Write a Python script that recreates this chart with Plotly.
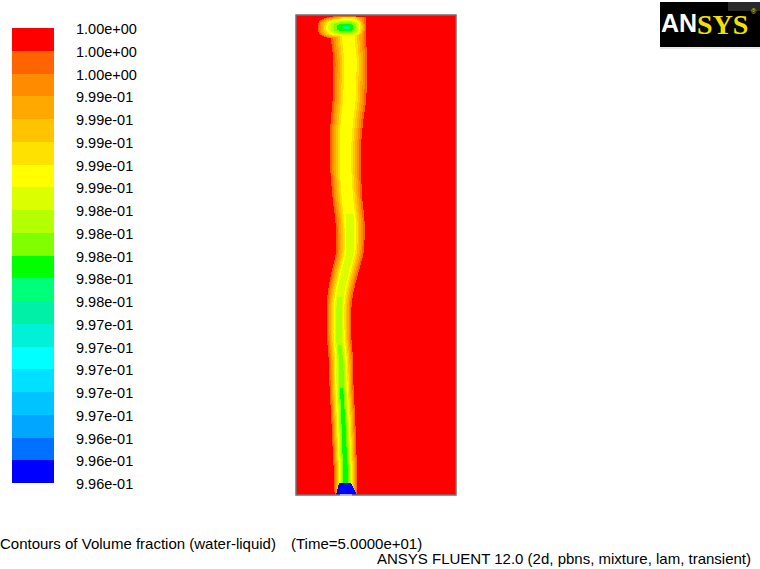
import numpy as np
import plotly.graph_objects as go

FIG_W, FIG_H = 760, 569

# ---------------- legend data ----------------
level_labels = [
    "1.00e+00", "1.00e+00", "1.00e+00",
    "9.99e-01", "9.99e-01", "9.99e-01", "9.99e-01", "9.99e-01",
    "9.98e-01", "9.98e-01", "9.98e-01", "9.98e-01", "9.98e-01",
    "9.97e-01", "9.97e-01", "9.97e-01", "9.97e-01", "9.97e-01",
    "9.96e-01", "9.96e-01", "9.96e-01",
]
# colour bands, top (max) to bottom (min)
band_colors = [
    "#FF0000", "#FF6400", "#FF8C00", "#FFA800", "#FFC300", "#FFE100",
    "#FFFF00", "#DCFF00", "#B4FF00", "#7FFF00", "#00FF00", "#00FF78",
    "#00F0A8", "#00F0D8", "#00FFFF", "#00E0FF", "#00C4FF", "#00A6FF",
    "#0070FF", "#0000FF",
]
vmax = 1.0
vmin = 0.99585

# ---------------- plume (screen px) ----------------
stem_y = [17, 40, 60, 100, 120, 140, 170, 200, 220, 237, 253, 270, 287, 303,
          337, 360, 387, 420, 450, 483]
stem_center = [348.5, 348.5, 350.5, 349.5, 347, 345.5, 345.5, 347.5, 350, 350.5,
               350, 345.5, 341.5, 339, 339, 341, 341.5, 343.3, 344.5, 346]
stem_halfwidth = [17.5, 17.5, 17, 16.8, 16.3, 15.8, 15.3, 14.8, 14.6, 14.2,
                  13.8, 13.6, 13, 12.5, 12.2, 12.2, 12, 12, 11.8, 11.5]
stem_core = [4.5, 4.5, 4.5, 4.5, 4.5, 4.3, 4.2, 4.0, 4.0, 3.8,
             3.6, 3.2, 2.6, 2.2, 1.8, 1.6, 1.5, 1.5, 1.5, 1.5]
stem_depth = [0.342, 0.342, 0.342, 0.342, 0.342, 0.342, 0.342, 0.345, 0.352,
              0.354, 0.354, 0.365, 0.385, 0.41, 0.44, 0.47, 0.50, 0.52, 0.53, 0.55]

blob_cx, blob_cy = 347.0, 27.5
blob_rx_left, blob_rx_right, blob_ry = 30.5, 19.5, 12.0
blob_depth = 0.56

inlet_top_y, inlet_bot_y = 483, 495
inlet_top_x = (339, 351)
inlet_bot_x = (336, 357)

# domain box in screen px
dom_x0, dom_x1, dom_y0, dom_y1 = 296, 456, 15, 495

# ---------------- build field ----------------
xc = np.arange(dom_x0, dom_x1) + 0.5
yc = np.arange(dom_y0, dom_y1) + 0.5
X, Y = np.meshgrid(xc, yc)


def smooth(v, win=21):
    k = np.hanning(win)
    k /= k.sum()
    pad = win // 2
    vp = np.pad(v, pad, mode="edge")
    return np.convolve(vp, k, mode="valid")


cen = smooth(np.interp(yc, stem_y, stem_center))[:, None]
dep = smooth(np.interp(yc, stem_y, stem_depth))[:, None]
vis = smooth(np.interp(yc, stem_y, stem_halfwidth))[:, None]
core = smooth(np.interp(yc, stem_y, stem_core))[:, None]
ramp = (vis - core) / (1 - 0.05 / dep)
hw = core + ramp
u = np.clip((hw - np.abs(X - cen)) / ramp, 0, 1)
stem = dep * u
stem[Y < 17] = 0

rx = np.where(X < blob_cx, blob_rx_left, blob_rx_right)
rb = (np.abs((X - blob_cx) / rx) ** 3 + np.abs((Y - blob_cy) / blob_ry) ** 3) ** (1 / 3)
blob = blob_depth * np.clip(1 - rb ** 2, 0, None)

depth = np.maximum(stem, blob)
t = np.clip((Y - inlet_top_y) / (inlet_bot_y - inlet_top_y), 0, 1)
left = inlet_top_x[0] + t * (inlet_bot_x[0] - inlet_top_x[0])
right = inlet_top_x[1] + t * (inlet_bot_x[1] - inlet_top_x[1])
inlet = (Y >= inlet_top_y) & (X >= left) & (X <= right)
depth[inlet] = 0.999

Z = vmax - (vmax - vmin) * depth

# discrete colour scale (bottom -> top)
cols_up = band_colors[::-1]
n = len(cols_up)
cscale = []
for k, c in enumerate(cols_up):
    cscale.append([k / n, c])
    cscale.append([(k + 1) / n, c])

fig = go.Figure()
fig.add_trace(go.Heatmap(x=xc, y=yc, z=Z, colorscale=cscale, zmin=vmin, zmax=vmax,
                         zsmooth=False, showscale=False, hoverinfo="skip",
                         xaxis="x", yaxis="y"))

step = (vmax - vmin) / n
legend_z = [[vmin + (k + 0.5) * step] for k in range(n)]
fig.add_trace(go.Heatmap(x=[0.5], y=[k + 0.5 for k in range(n)], z=legend_z,
                         colorscale=cscale, zmin=vmin, zmax=vmax, zsmooth=False,
                         showscale=False, hoverinfo="skip", xaxis="x2", yaxis="y2"))


def px(xp):
    return xp / FIG_W


def py(yp):
    return 1 - yp / FIG_H


leg_top, leg_bot = 28, 483
ax_common = dict(showgrid=False, zeroline=False, showticklabels=False, ticks="",
                 showline=False, fixedrange=True)
fig.update_layout(
    width=FIG_W, height=FIG_H,
    margin=dict(l=0, r=0, t=0, b=0),
    paper_bgcolor="white", plot_bgcolor="white",
    xaxis=dict(domain=[px(dom_x0), px(dom_x1)], range=[dom_x0, dom_x1], **ax_common),
    yaxis=dict(domain=[py(dom_y1), py(dom_y0)], range=[dom_y1, dom_y0], **ax_common),
    xaxis2=dict(domain=[px(12), px(54)], range=[0, 1], anchor="y2", **ax_common),
    yaxis2=dict(domain=[py(leg_bot), py(leg_top)], range=[0, n], anchor="x2", **ax_common),
    showlegend=False,
    font=dict(family="Liberation Sans, Arial, sans-serif", color="black"),
)

annotations = []
band_h = (leg_bot - leg_top) / n
for i, lab in enumerate(level_labels):
    annotations.append(dict(text=lab, xref="paper", yref="paper", x=px(74),
                            y=py(leg_top + 1 + i * band_h),
                            xanchor="left", yanchor="middle", showarrow=False,
                            font=dict(size=14.5, color="black")))

annotations.append(dict(text="Contours of Volume fraction (water-liquid)", xref="paper", yref="paper",
                        x=px(-2), y=py(543), xanchor="left", yanchor="middle", showarrow=False,
                        font=dict(size=15)))
annotations.append(dict(text="(Time=5.0000e+01)", xref="paper", yref="paper",
                        x=px(289), y=py(543), xanchor="left", yanchor="middle", showarrow=False,
                        font=dict(size=15)))
annotations.append(dict(text="ANSYS FLUENT 12.0 (2d, pbns, mixture, lam, transient)", xref="paper",
                        yref="paper", x=px(753), y=py(558), xanchor="right", yanchor="middle",
                        showarrow=False, font=dict(size=15)))
# logo text
annotations.append(dict(text="<b>AN</b>", xref="paper", yref="paper", x=px(698), y=py(23),
                        xanchor="right", yanchor="middle", showarrow=False, borderpad=0,
                        font=dict(size=25, color="white",
                                  family="Liberation Sans Narrow, Liberation Sans, Arial")))
annotations.append(dict(text="<b>SYS</b>", xref="paper", yref="paper", x=px(696), y=py(24),
                        xanchor="left", yanchor="middle", showarrow=False, borderpad=0,
                        font=dict(size=28, color="#F2E000", family="Liberation Serif, Times New Roman, serif")))
annotations.append(dict(text="®", xref="paper", yref="paper", x=px(749), y=py(12),
                        xanchor="left", yanchor="middle", showarrow=False,
                        font=dict(size=7, color="#F2E000")))

shapes = [
    dict(type="rect", xref="paper", yref="paper", x0=px(dom_x0), x1=px(dom_x1),
         y0=py(dom_y1), y1=py(dom_y0), line=dict(color="#707070", width=1.5), fillcolor="rgba(0,0,0,0)"),
    dict(type="line", xref="paper", yref="paper", x0=px(340), x1=px(352), y0=py(495), y1=py(495),
         line=dict(color="#C8C8FF", width=1.5)),
    dict(type="rect", xref="paper", yref="paper", x0=px(660), x1=px(760), y0=py(47), y1=py(2),
         line=dict(width=0), fillcolor="black", layer="below"),
    dict(type="rect", xref="paper", yref="paper", x0=px(728), x1=px(760), y0=py(11), y1=py(2),
         line=dict(width=0), fillcolor="#2A2A2A", layer="below"),
    dict(type="line", xref="paper", yref="paper", x0=px(660), x1=px(760), y0=py(48), y1=py(48),
         line=dict(color="#D0D0D0", width=1)),
]
fig.update_layout(annotations=annotations, shapes=shapes)

fig.write_html("out.html", config={"displayModeBar": False, "staticPlot": True},
               post_script="document.body.style.margin='0';document.body.style.overflow='hidden';")
